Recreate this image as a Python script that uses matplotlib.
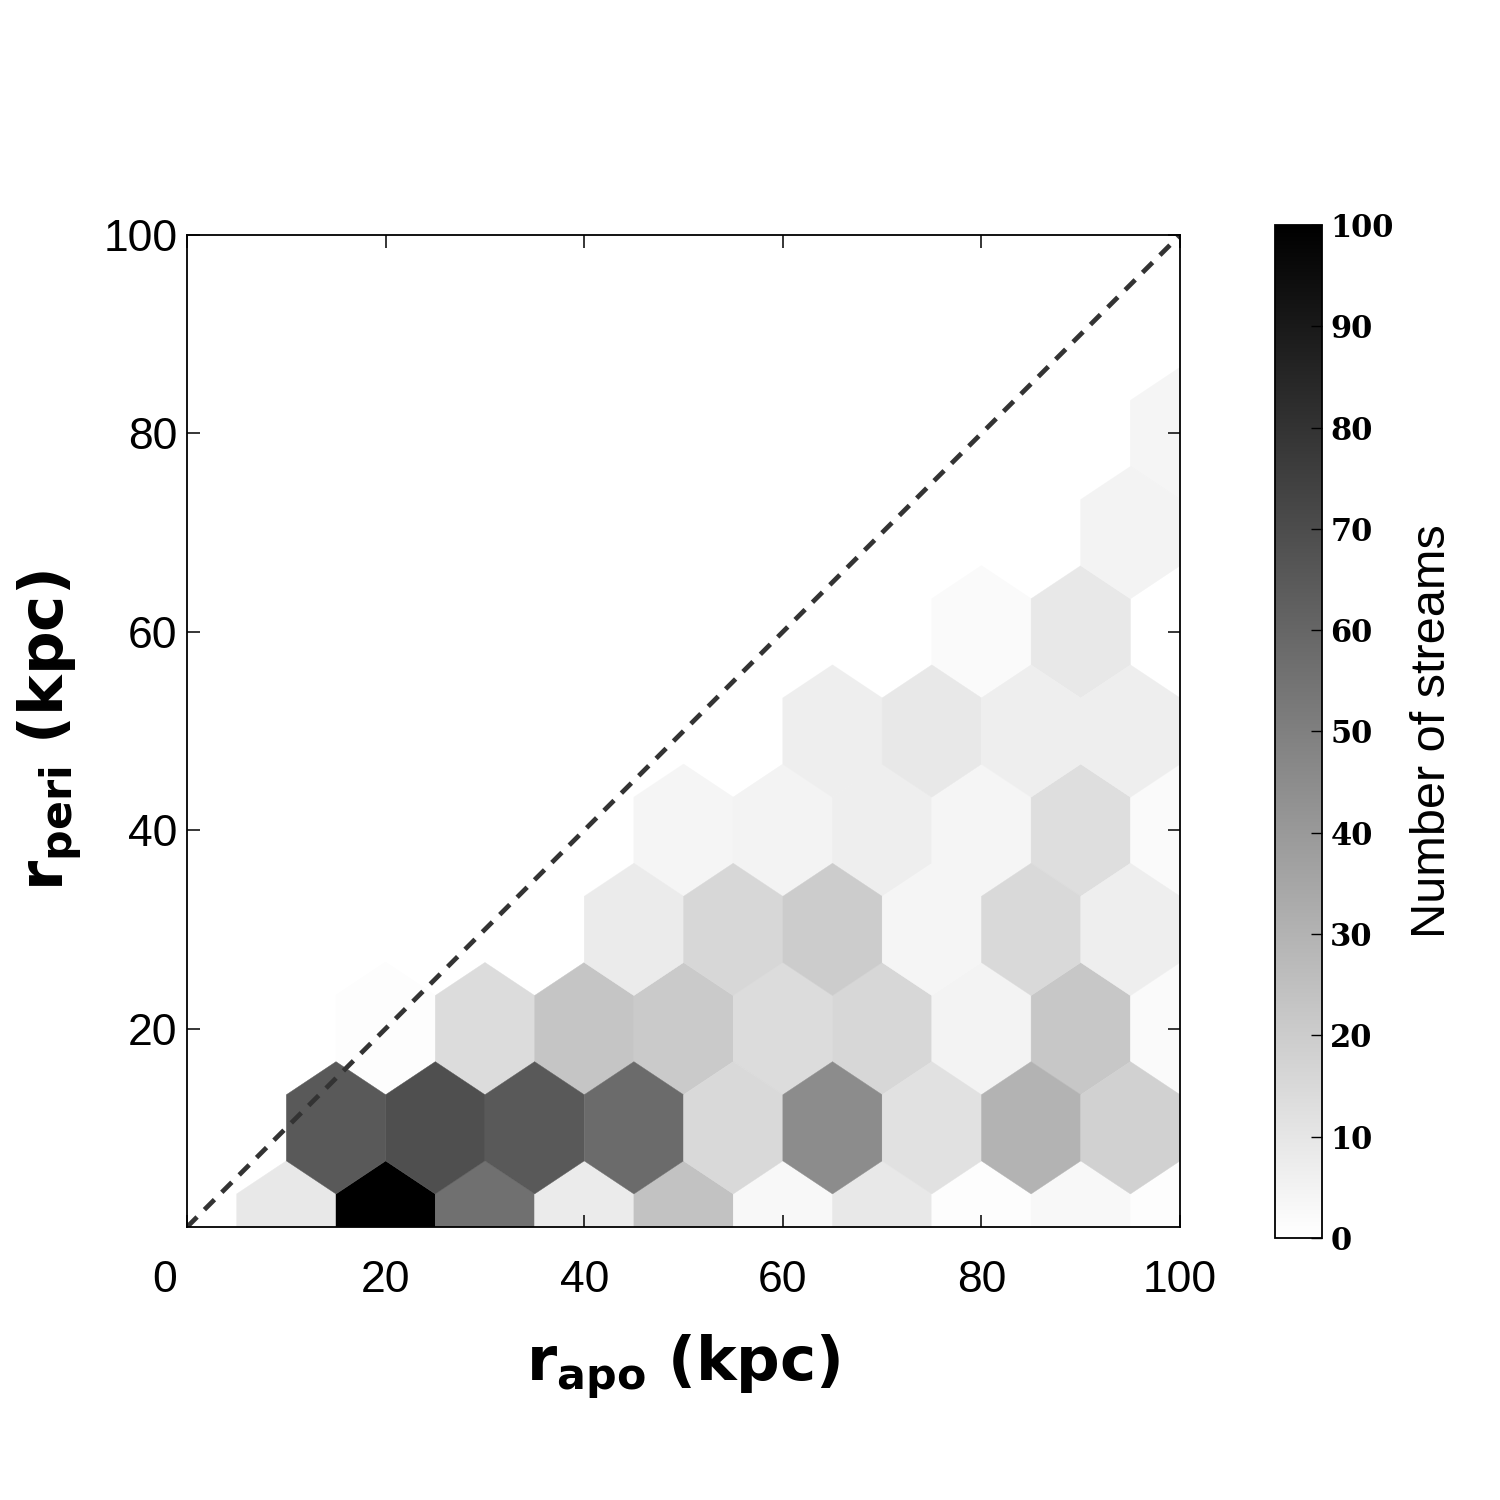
import matplotlib
matplotlib.use("Agg")
import matplotlib.pyplot as plt
import matplotlib.transforms as mtransforms
import numpy as np

plt.rcParams["font.family"] = ["Liberation Sans", "DejaVu Sans"]

# hexbin cell centres (r_apo, r_peri in kpc) and number of streams per cell
apo = [10, 20, 30, 40, 50, 60, 70, 80, 90, 100,
       15, 25, 35, 45, 55, 65, 75, 85, 95,
       20, 30, 40, 50, 60, 70, 80, 90, 100,
       45, 55, 65, 75, 85, 95,
       50, 60, 70, 80, 90, 100,
       65, 75, 85, 95,
       80, 90,
       95,
       100]
peri = [0] * 10 + [10] * 9 + [20] * 9 + [30] * 6 + [40] * 6 + [50] * 4 + [60] * 2 + [70] + [80]
counts = [9, 100, 56, 8, 24, 3, 9, 1, 3, 1,
          65, 69, 65, 58, 15, 45, 12, 30, 18,
          1, 14, 23, 21, 14, 16, 5, 22, 2,
          8, 16, 20, 4, 15, 7,
          4, 5, 7, 4, 13, 2,
          7, 9, 7, 7,
          2, 9,
          5,
          4]

cbar_ticks = [0, 10, 20, 30, 40, 50, 60, 70, 80, 90, 100]
axis_ticks = [0, 20, 40, 60, 80, 100]

fig = plt.figure(figsize=(15, 15), dpi=100)
ax = fig.add_axes([0.1247, 0.182, 0.662, 0.6613])
cax = fig.add_axes([0.85, 0.1747, 0.0313, 0.6753])

hb = ax.hexbin(apo, peri, C=counts, reduce_C_function=np.sum,
               gridsize=(10, 5), extent=(0, 100, 0, 100),
               cmap="gray_r", vmin=0, vmax=100, edgecolors="face", linewidths=0.3)

ax.plot([0, 100], [0, 100], color="#333333", lw=3.4, linestyle=(0, (3.0, 2.2)))

ax.set_xlim(0, 100)
ax.set_ylim(0, 100)
ax.set_xticks(axis_ticks)
ax.set_yticks(axis_ticks[1:])
ax.tick_params(direction="in", top=True, right=True, length=9, width=1.1,
               labelsize=32)
ax.tick_params(axis="x", pad=24)
ax.tick_params(axis="y", pad=7)
for s in ax.spines.values():
    s.set_linewidth(1.3)

# the "0" label sits a little left of its tick in the original
zero_lbl = ax.get_xticklabels()[0]
zero_lbl.set_transform(zero_lbl.get_transform()
                       + mtransforms.ScaledTranslation(-0.22, 0, fig.dpi_scale_trans))

ax.set_xlabel(r"$\mathbf{r_{apo}\ (kpc)}$", fontsize=44,
              math_fontfamily="dejavusans", labelpad=22)
ax.set_ylabel(r"$\mathbf{r_{peri}\ (kpc)}$", fontsize=44,
              math_fontfamily="dejavusans", labelpad=14)

cbar = fig.colorbar(hb, cax=cax)
cbar.set_ticks(cbar_ticks)
cax.set_yticklabels([str(t) for t in cbar_ticks],
                    family="DejaVu Serif", fontweight="bold", fontsize=22)
cax.tick_params(direction="in", length=8, width=1.0, pad=6)
cbar.outline.set_linewidth(1.3)
cbar.set_label("Number of streams", fontsize=35, labelpad=12)

fig.savefig("out.png", dpi=100)
